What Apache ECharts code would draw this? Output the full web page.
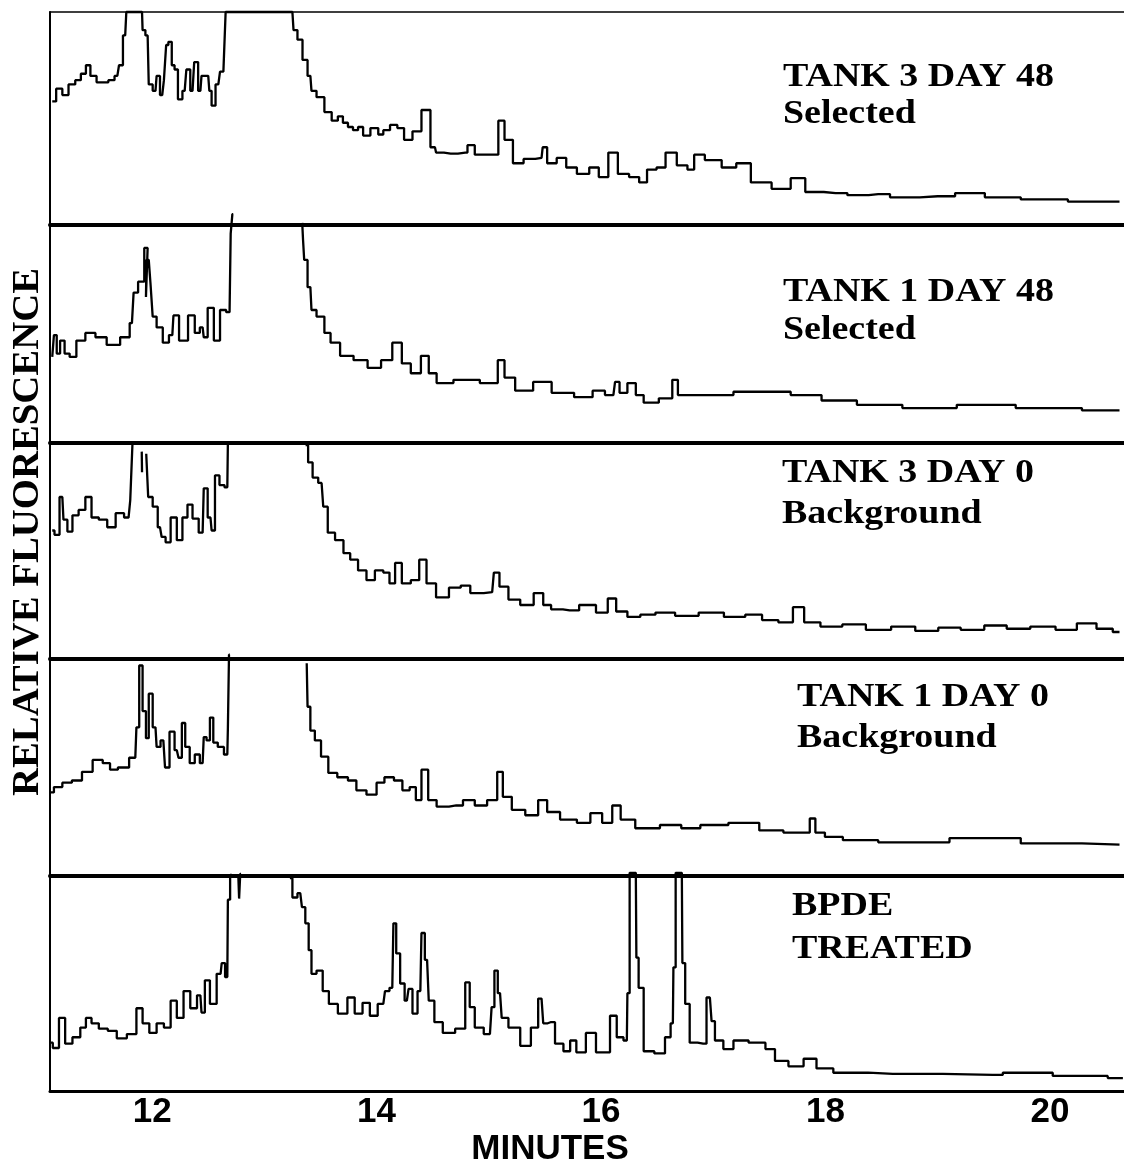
<!DOCTYPE html>
<html lang="en">

<head>
    <meta charset="UTF-8">
    <title>Relative fluorescence chromatograms</title>
    <script src="https://cdn.jsdelivr.net/npm/echarts@6/dist/echarts.min.js"></script>
    <style>
        html, body { margin: 0; padding: 0; background: #fff; }
    </style>
</head>

<body>
    <div id="main" style="width:1124px;height:1172px;"></div>
    <script>
        // time window in minutes
        var minMinutes = 11.09;
        var maxMinutes = 20.66;
        var tickMinutes = [12, 14, 16, 18, 20];

        // panel captions, top to bottom
        var panelTitles = ['TANK 3 DAY 48', 'TANK 1 DAY 48', 'TANK 3 DAY 0', 'TANK 1 DAY 0', 'BPDE'];
        var panelSubtitles = ['Selected', 'Selected', 'Background', 'Background', 'TREATED'];

        // traces: [minutes, relative fluorescence 0-100 of the panel]
        // a pair of '-' points breaks the line where the trace runs off the top of its panel
        var tank3Day48 = [
            [11.11, 58], [11.18, 64], [11.22, 61], [11.29, 66], [11.34, 68], [11.39, 71], [11.43, 75], [11.47, 70],
            [11.54, 67], [11.58, 67], [11.64, 68], [11.69, 70], [11.72, 75], [11.76, 89], [11.78, 100], [11.91, 100],
            [11.92, 91.5], [11.96, 89], [11.98, 66], [12.03, 63], [12.05, 70], [12.09, 61], [12.12, 68], [12.13, 84.5],
            [12.16, 86], [12.19, 75], [12.21, 73], [12.25, 59], [12.29, 63], [12.32, 73], [12.36, 63], [12.39, 76.5],
            [12.43, 63], [12.45, 70], [12.50, 70], [12.52, 63], [12.54, 56], [12.59, 66], [12.62, 72], [12.65, 72],
            [12.66, 100], [13.25, 100], [13.27, 91.5], [13.32, 87], [13.36, 77.5], [13.41, 70], [13.43, 63], [13.50, 60],
            [13.57, 53], [13.63, 49], [13.68, 51], [13.72, 48], [13.77, 46], [13.81, 44.5], [13.86, 46], [13.90, 42],
            [13.99, 45.5], [14.04, 42.5], [14.08, 44.5], [14.16, 47], [14.21, 45.5], [14.28, 40], [14.36, 44], [14.44, 54],
            [14.52, 36.5], [14.54, 34], [14.66, 33.5], [14.79, 34], [14.83, 37.5], [14.92, 33], [15.06, 33], [15.11, 49],
            [15.17, 40], [15.26, 29], [15.36, 31], [15.47, 31.5], [15.49, 36.5], [15.55, 29], [15.66, 31.5], [15.72, 27],
            [15.85, 24], [15.94, 27], [16.02, 22.5], [16.11, 34], [16.19, 24], [16.31, 22.5], [16.37, 20], [16.45, 26],
            [16.54, 27], [16.61, 34], [16.74, 28], [16.80, 26], [16.86, 33], [16.99, 30.5], [17.16, 27], [17.25, 29],
            [17.42, 20], [17.62, 17], [17.76, 22], [17.88, 15.5], [18.09, 15], [18.30, 14], [18.47, 14.5], [18.68, 13],
            [19.00, 13.5], [19.31, 15], [19.53, 13], [19.95, 12], [20.37, 11], [20.62, 11]
        ];
        var tank1Day48 = [
            [11.11, 39.5], [11.14, 49.5], [11.16, 41], [11.20, 47], [11.24, 41], [11.29, 39.5], [11.36, 47], [11.45, 50.5],
            [11.54, 48.5], [11.65, 45], [11.78, 48.5], [11.82, 55], [11.85, 69], [11.90, 74], [11.96, 89.5], [11.93, 67],
            [11.97, 84], [12.00, 73.5], [12.01, 58], [12.07, 53], [12.12, 46], [12.18, 49.5], [12.20, 58.5], [12.28, 47],
            [12.36, 58.5], [12.40, 50.5], [12.45, 53], [12.47, 48.5], [12.52, 62], [12.58, 47], [12.63, 61], [12.69, 60],
            [12.71, 96], [12.72, 105], [12.725, '-'], [13.335, '-'], [13.34, 101], [13.35, 93], [13.36, 84], [13.41, 71.5],
            [13.43, 61], [13.50, 58], [13.57, 50.5], [13.61, 46], [13.74, 40], [13.85, 38], [13.99, 34.5], [14.09, 38],
            [14.19, 46], [14.26, 36.5], [14.35, 32], [14.44, 40], [14.49, 32], [14.58, 27.5], [14.79, 29], [15.05, 27.5],
            [15.11, 38], [15.17, 30], [15.30, 24], [15.49, 28], [15.63, 23], [15.89, 21], [15.96, 24], [16.11, 22],
            [16.14, 28], [16.19, 23], [16.28, 27.5], [16.34, 22], [16.42, 18.5], [16.61, 20.5], [16.66, 29], [16.71, 22],
            [16.99, 22], [17.37, 23.5], [17.54, 23.5], [17.84, 22], [18.09, 19.5], [18.47, 17.5], [18.90, 16],
            [19.44, 17.5], [19.95, 16], [20.62, 15]
        ];
        var tank3Day0 = [
            [11.11, 59.5], [11.15, 57.5], [11.20, 75], [11.22, 64.5], [11.27, 59], [11.31, 66.5], [11.38, 69], [11.43, 75],
            [11.49, 65.5], [11.56, 64.5], [11.64, 61], [11.71, 67.5], [11.79, 65.5], [11.82, 73.5], [11.83, 100],
            [11.835, '-'], [11.905, '-'], [11.91, 96], [11.91, 86.5], [11.915, '-'], [11.945, '-'], [11.95, 95],
            [11.98, 75], [12.03, 70.5], [12.07, 61], [12.10, 56.5], [12.14, 54], [12.19, 65.5], [12.25, 55], [12.29, 65.5],
            [12.34, 71.5], [12.38, 65], [12.45, 58.5], [12.47, 79], [12.52, 65.5], [12.54, 59.5], [12.58, 85], [12.62, 80.5],
            [12.67, 79.5], [12.68, 100], [12.685, '-'], [13.365, '-'], [13.37, 99], [13.41, 91], [13.45, 84], [13.51, 81.5],
            [13.54, 70.5], [13.59, 58.5], [13.67, 55], [13.74, 49], [13.79, 46], [13.88, 41], [13.94, 36.5], [14.03, 41],
            [14.09, 40], [14.14, 35], [14.19, 44.5], [14.26, 35], [14.35, 36.5], [14.41, 46], [14.48, 35], [14.58, 28.5],
            [14.71, 33], [14.79, 34], [14.88, 30.5], [15.03, 31], [15.06, 40], [15.13, 33.5], [15.22, 27.5], [15.34, 25],
            [15.46, 30.5], [15.51, 25], [15.60, 23], [15.72, 22.5], [15.89, 25], [16.02, 21.5], [16.10, 28], [16.17, 22],
            [16.30, 19.5], [16.40, 20.5], [16.57, 21.5], [16.75, 20], [16.99, 21.5], [17.20, 19.5], [17.37, 20.5],
            [17.50, 18], [17.66, 17], [17.76, 24], [17.86, 17], [18.05, 15], [18.25, 16], [18.47, 13.5], [18.70, 15],
            [18.90, 13], [19.11, 14.5], [19.30, 13.5], [19.53, 15.5], [19.70, 14], [19.95, 15], [20.15, 13.5],
            [20.33, 16.5], [20.50, 14], [20.62, 12.5]
        ];
        var tank1Day0 = [
            [11.09, 38.5], [11.16, 41], [11.24, 43], [11.33, 44], [11.42, 48], [11.52, 53.5], [11.60, 52], [11.65, 49],
            [11.74, 50], [11.85, 54.5], [11.87, 68.5], [11.90, 97], [11.93, 76], [11.96, 63.5], [11.98, 84], [12.03, 68.5],
            [12.05, 59.5], [12.10, 62.5], [12.13, 50], [12.18, 66.5], [12.22, 58], [12.25, 54.5], [12.28, 70.5],
            [12.31, 59.5], [12.36, 52], [12.40, 56], [12.45, 52], [12.47, 64], [12.50, 62.5], [12.53, 73], [12.56, 61.5],
            [12.61, 59.5], [12.67, 56], [12.68, 68], [12.69, 102], [12.695, '-'], [13.375, '-'], [13.38, 98], [13.39, 78],
            [13.43, 67], [13.47, 62.5], [13.54, 55], [13.60, 47.5], [13.70, 45.5], [13.79, 44], [13.85, 39.5], [13.97, 37.5],
            [14.03, 43], [14.11, 45.5], [14.20, 44], [14.26, 39.5], [14.33, 41], [14.37, 35], [14.43, 49], [14.49, 35],
            [14.58, 32], [14.71, 32.5], [14.83, 35], [14.92, 32.5], [15.05, 35], [15.10, 48], [15.15, 36.5], [15.26, 30.5],
            [15.39, 28], [15.49, 35], [15.55, 29.5], [15.72, 26], [15.85, 24.5], [15.96, 29], [16.06, 24.5], [16.14, 32.5],
            [16.21, 26], [16.40, 22], [16.65, 23.5], [16.78, 22], [16.99, 23.5], [17.28, 24.5], [17.54, 21], [17.71, 20],
            [17.84, 20], [17.88, 26.5], [17.94, 20], [18.05, 18], [18.26, 16.5], [18.68, 15.5], [19.53, 17.5], [19.95, 15],
            [20.62, 14.5]
        ];
        var bpdeTreated = [
            [11.09, 22.5], [11.14, 20], [11.20, 34], [11.25, 22], [11.33, 25], [11.39, 29.5], [11.43, 34], [11.49, 31.5],
            [11.56, 29], [11.65, 28], [11.72, 24.5], [11.83, 26.5], [11.89, 38.5], [11.94, 31.5], [12.01, 27], [12.07, 31.5],
            [12.14, 29.5], [12.19, 42], [12.25, 34], [12.31, 46.5], [12.37, 38.5], [12.43, 44.5], [12.45, 36.5], [12.49, 51.5],
            [12.54, 40.5], [12.61, 54.5], [12.63, 59.5], [12.67, 53], [12.68, 89], [12.71, 100.5], [12.715, '-'],
            [12.765, '-'], [12.77, 101], [12.78, 89.5], [12.79, 101], [12.795, '-'], [13.225, '-'], [13.23, 99], [13.27, 90],
            [13.32, 92], [13.35, 85.5], [13.38, 78], [13.41, 65.5], [13.43, 54.5], [13.50, 56], [13.54, 46.5], [13.61, 40.5],
            [13.70, 36], [13.78, 43.5], [13.83, 36], [13.92, 41], [13.96, 35], [14.06, 40.5], [14.09, 46.5], [14.14, 48],
            [14.16, 78], [14.19, 64], [14.23, 50], [14.27, 42], [14.30, 47.5], [14.34, 36], [14.39, 46.5], [14.41, 73.5],
            [14.45, 61], [14.48, 42], [14.55, 32], [14.63, 27], [14.77, 29], [14.81, 50.5], [14.85, 39], [14.90, 29.5],
            [15.01, 26.5], [15.04, 39], [15.06, 56], [15.10, 45.5], [15.13, 34], [15.22, 29.5], [15.34, 21], [15.41, 29.5],
            [15.47, 43], [15.50, 31.5], [15.55, 32], [15.63, 22], [15.70, 18.5], [15.75, 23.5], [15.81, 18], [15.92, 27],
            [15.99, 18], [16.05, 18], [16.11, 35], [16.17, 25], [16.23, 23.5], [16.24, 45.5], [16.27, 101.5], [16.31, 101.5],
            [16.32, 62], [16.35, 48], [16.41, 18.5], [16.54, 17.5], [16.60, 25], [16.64, 31.5], [16.65, 57.5], [16.68, 101.5],
            [16.72, 101.5], [16.73, 59.5], [16.77, 40.5], [16.81, 22.5], [16.91, 22], [16.97, 43.5], [17.00, 32.5],
            [17.03, 23.5], [17.15, 19.5], [17.21, 23.5], [17.42, 22.5], [17.51, 19.5], [17.59, 14], [17.75, 11.5],
            [17.86, 15], [17.98, 10.5], [18.16, 8.5], [18.60, 8], [19.49, 7.5], [19.67, 8.5], [20.38, 7], [20.65, 6]
        ];
        var traces = [tank3Day48, tank1Day48, tank3Day0, tank1Day0, bpdeTreated];

        // panel layout (px)
        var panelTops = [12, 225, 443, 659, 876];
        var panelBottoms = [225, 443, 659, 876, 1091];
        var titleY = [[77, 114], [292, 330], [473, 514], [697, 738], [906, 949]];
        var titleX = [783, 783, 782, 797, 792];

        var myChart = echarts.init(document.getElementById('main'));
        var grids = [], xAxes = [], yAxes = [], seriesObj = [], graphics = [];
        var serif = 'bold 33px "Liberation Serif", "Times New Roman", serif';

        for (var i = 0; i < 5; i++) {
            var last = i === 4;
            grids.push({
                left: 50,
                width: 1074,
                top: panelTops[i],
                height: panelBottoms[i] - panelTops[i]
            });
            xAxes.push({
                gridIndex: i,
                type: 'value',
                min: minMinutes,
                max: maxMinutes,
                axisLine: { show: true, lineStyle: { color: '#000', width: last ? 3 : 4 } },
                axisTick: { show: false },
                splitLine: { show: false },
                axisLabel: {
                    show: last,
                    customValues: tickMinutes,
                    margin: 4,
                    color: '#000',
                    fontFamily: 'Liberation Sans',
                    fontWeight: 'bold',
                    fontSize: 35
                }
            });
            yAxes.push({
                gridIndex: i,
                type: 'value',
                min: 0,
                max: 100,
                axisLine: { show: true, lineStyle: { color: '#000', width: 2 } },
                axisTick: { show: false },
                axisLabel: { show: false },
                splitLine: { show: false }
            });
            // chromatogram drawn as steps, like the recorder trace
            seriesObj.push({
                type: 'line',
                xAxisIndex: i,
                yAxisIndex: i,
                data: traces[i],
                step: 'middle',
                showSymbol: false,
                clip: false,
                connectNulls: false,
                lineStyle: { color: '#000', width: 2.3 },
                animation: false
            });
            // panel caption
            graphics.push({
                type: 'text', x: titleX[i], y: titleY[i][0], scaleX: 1.15,
                style: { text: panelTitles[i], font: serif, fill: '#000', align: 'left', verticalAlign: 'middle' }
            });
            graphics.push({
                type: 'text', x: titleX[i], y: titleY[i][1], scaleX: 1.15,
                style: { text: panelSubtitles[i], font: serif, fill: '#000', align: 'left', verticalAlign: 'middle' }
            });
        }

        // thin frame line on top of the first panel
        xAxes.push({
            gridIndex: 0,
            type: 'value',
            position: 'top',
            min: minMinutes,
            max: maxMinutes,
            axisLine: { show: true, lineStyle: { color: '#000', width: 1.5 } },
            axisTick: { show: false },
            axisLabel: { show: false },
            splitLine: { show: false }
        });

        graphics.push({
            type: 'text', x: 28, y: 532, rotation: Math.PI / 2, scaleX: 1.02,
            style: {
                text: 'RELATIVE FLUORESCENCE',
                font: 'bold 38px "Liberation Serif", "Times New Roman", serif',
                fill: '#000', align: 'center', verticalAlign: 'middle'
            }
        });
        graphics.push({
            type: 'text', x: 550, y: 1149,
            style: {
                text: 'MINUTES',
                font: 'bold 35px "Liberation Sans", Arial, sans-serif',
                fill: '#000', align: 'center', verticalAlign: 'middle'
            }
        });

        var option = {
            backgroundColor: '#fff',
            animation: false,
            grid: grids,
            xAxis: xAxes,
            yAxis: yAxes,
            series: seriesObj,
            graphic: graphics
        };
        myChart.setOption(option);
    </script>
</body>

</html>
